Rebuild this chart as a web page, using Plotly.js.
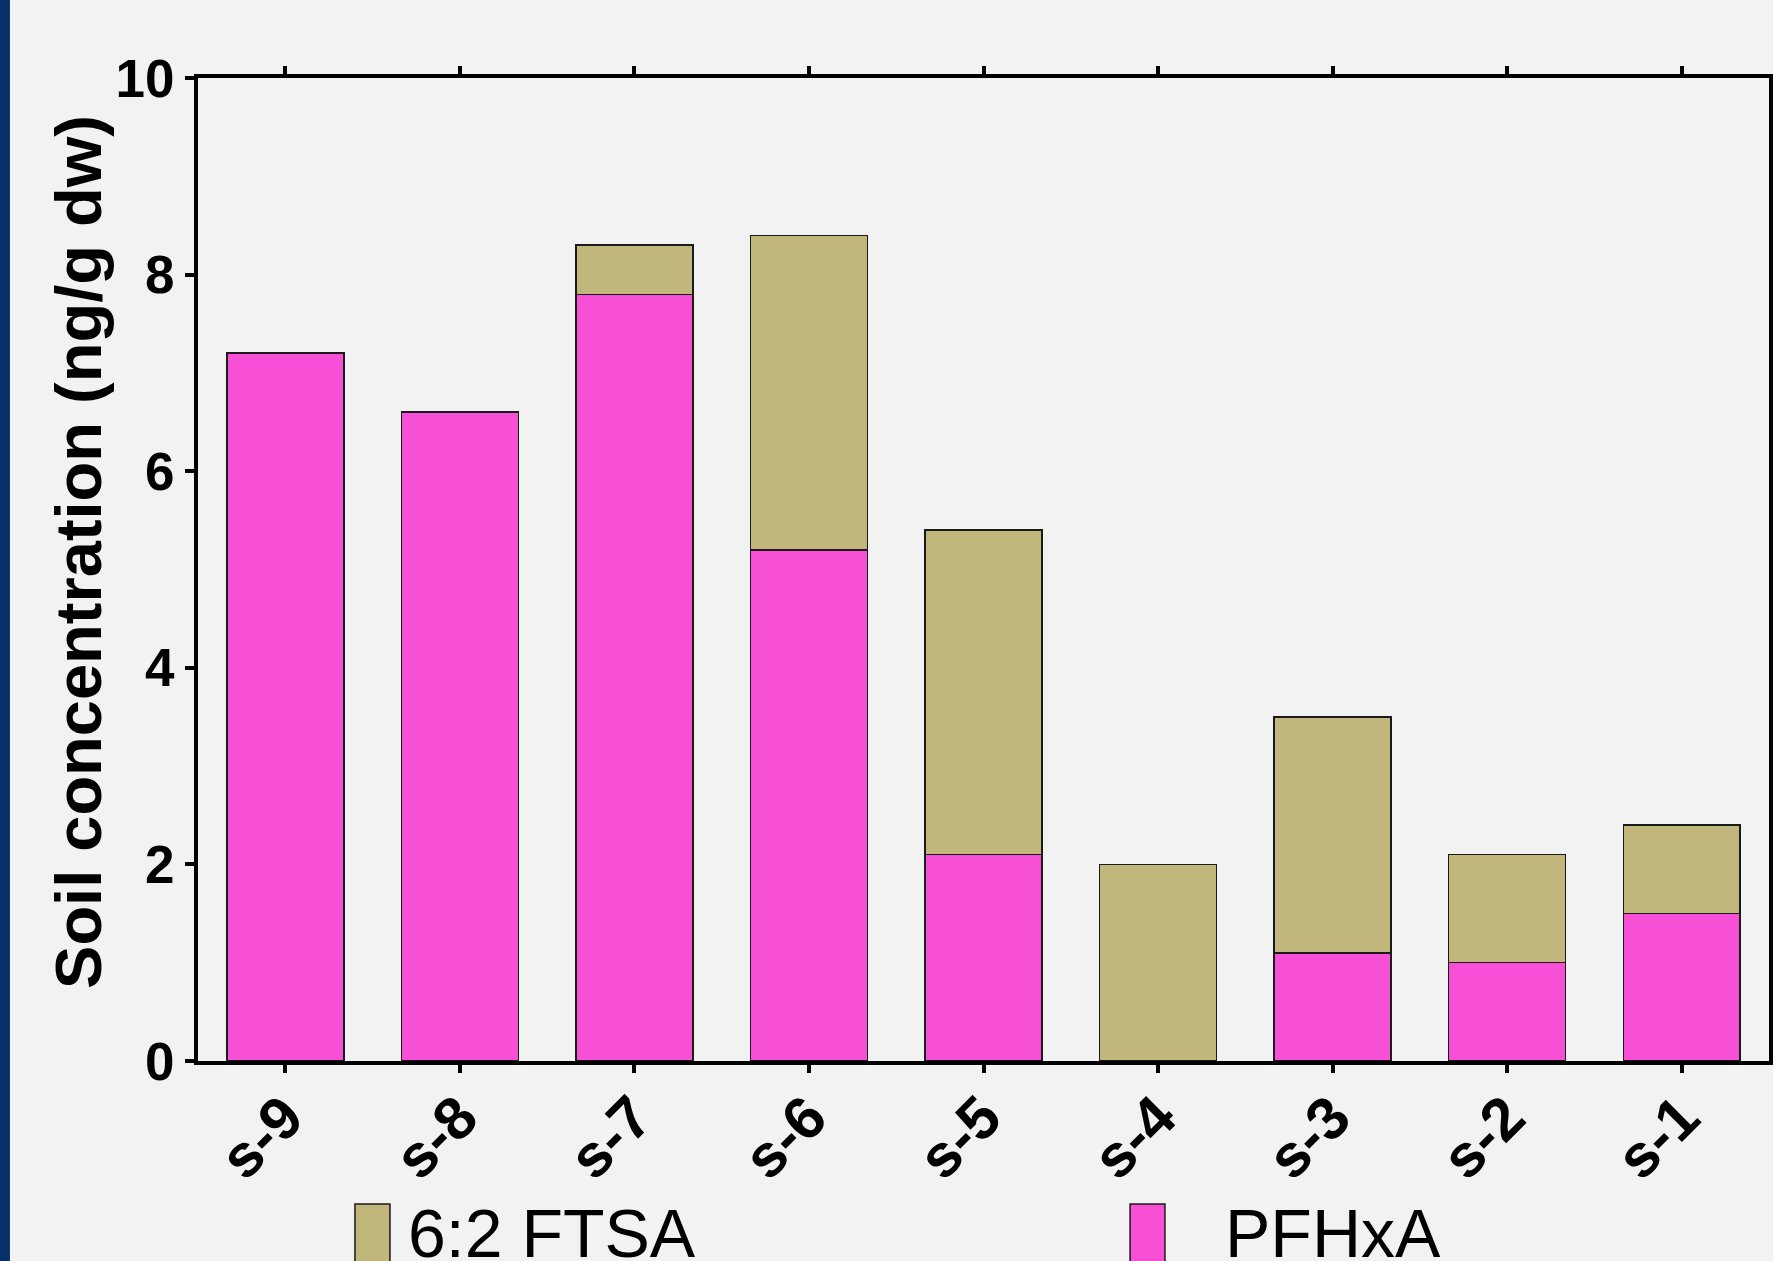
<!DOCTYPE html>
<html>
<head>
<meta charset="utf-8">
<script src="https://cdn.plot.ly/plotly-3.0.1.min.js"></script>
<style>
html,body{margin:0;padding:0;background:#f2f2f2;}
#chart{width:1773px;height:1261px;}
</style>
</head>
<body>
<div id="chart"></div>
<script>
// Data
const sites = ["s-9","s-8","s-7","s-6","s-5","s-4","s-3","s-2","s-1"];
const pfhxa = [7.2, 6.6, 7.8, 5.2, 2.1, 0, 1.1, 1.0, 1.5];
const ftsa  = [0, 0, 0.5, 3.2, 3.3, 2.0, 2.4, 1.1, 0.9];
const seriesNames = ["6:2 FTSA", "PFHxA"];
const yTicks = [0, 2, 4, 6, 8, 10];
const yTitle = "Soil concentration (ng/g dw)";

const pink = "#f74fd6";
const tan = "#c1b77d";
const FONT = "Arial, 'Liberation Sans', Helvetica, sans-serif";

const traces = [
  {type:"bar", name:seriesNames[1], x:sites, y:pfhxa,
   marker:{color:pink, line:{color:"#1a1a1a", width:1.5}}, showlegend:false},
  {type:"bar", name:seriesNames[0], x:sites, y:ftsa,
   marker:{color:tan, line:{color:"#1a1a1a", width:1.5}}, showlegend:false}
];

const layout = {
  width:1773, height:1261,
  paper_bgcolor:"#f2f2f2", plot_bgcolor:"#f2f2f2",
  margin:{l:198, r:4, t:78, b:200},
  barmode:"stack", bargap:0.33,
  font:{family:FONT, color:"#000"},
  xaxis:{
    type:"category", showline:true, linecolor:"#000", linewidth:4, mirror:"ticks",
    ticks:"outside", ticklen:8, tickwidth:4, tickcolor:"#000",
    tickangle:-45, ticklabelstandoff:-15,
    tickfont:{family:FONT, size:60, weight:"bold", color:"#000"},
    showgrid:false, zeroline:false, fixedrange:true
  },
  yaxis:{
    range:[0,10], tickvals:yTicks, ticktext:yTicks.map(String),
    showline:true, linecolor:"#000", linewidth:4, mirror:"ticks",
    ticks:"outside", ticklen:9, tickwidth:4, tickcolor:"#000",
    tickfont:{family:FONT, size:53, weight:"bold", color:"#000"},
    showgrid:false, zeroline:false, fixedrange:true
  },
  shapes:[
    {type:"rect", xref:"paper", yref:"paper", x0:-0.13, x1:-0.1197, y0:-0.3, y1:1.2,
     fillcolor:"#083068", line:{width:0}},
    {type:"rect", xref:"paper", yref:"paper", x0:0.0999, x1:0.1222, y0:-0.1455, y1:-0.23,
     fillcolor:tan, line:{color:"#1a1a1a", width:1.5}},
    {type:"rect", xref:"paper", yref:"paper", x0:0.5933, x1:0.6155, y0:-0.1455, y1:-0.23,
     fillcolor:pink, line:{color:"#1a1a1a", width:1.5}}
  ],
  annotations:[
    {xref:"paper", yref:"paper", x:-0.0764, y:0.5178, text:yTitle, showarrow:false,
     textangle:-90, xanchor:"center", yanchor:"middle",
     font:{family:FONT, size:65, weight:"bold", color:"#000"}},
    {xref:"paper", yref:"paper", x:0.1326, y:-0.175, text:seriesNames[0], showarrow:false,
     xanchor:"left", yanchor:"middle", font:{family:FONT, size:68, color:"#000"}},
    {xref:"paper", yref:"paper", x:0.6525, y:-0.175, text:seriesNames[1], showarrow:false,
     xanchor:"left", yanchor:"middle", font:{family:FONT, size:68, color:"#000"}}
  ]
};

Plotly.newPlot("chart", traces, layout, {displayModeBar:false, staticPlot:true});
</script>
</body>
</html>
